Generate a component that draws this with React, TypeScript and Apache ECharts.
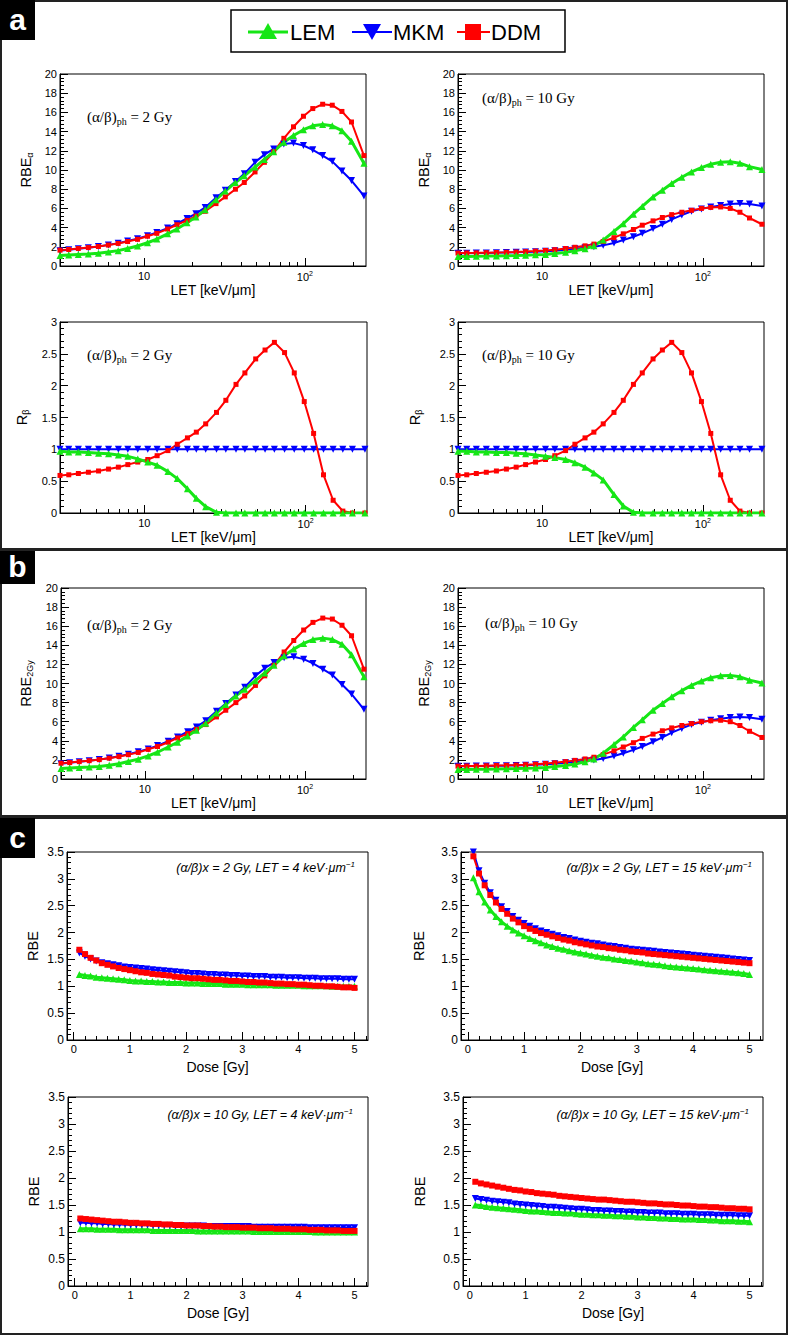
import React, { useEffect, useRef } from 'react';
import * as echarts from 'echarts';

const FONT = '"Liberation Sans", Arial, Helvetica, sans-serif';
const SERIF = '"Liberation Serif", "Times New Roman", serif';
const GREEN = '#16e616';
const BLUE = '#0000ff';
const RED = '#ff0000';

// LET grid (keV/um)
const LET = [3.0, 3.4, 3.9, 4.5, 5.2, 6.0, 6.9, 7.9, 9.1, 10.5, 12, 14, 16, 18.5, 21, 24, 28, 32, 37, 42, 49, 56, 64, 74, 85, 98, 112, 129, 148, 170, 195, 233];
const LET_MAJOR = [10, 100];
const LET_MINOR = [4, 5, 6, 7, 8, 9, 20, 30, 40, 50, 60, 70, 80, 90, 200];

// RBE_alpha, (a/b)ph = 2 Gy
const RBEA2_LEM = [1.1, 1.15, 1.2, 1.25, 1.32, 1.45, 1.6, 1.83, 2.08, 2.42, 2.8, 3.35, 3.85, 4.5, 5.1, 5.85, 6.9, 7.8, 8.7, 9.4, 10.3, 11.1, 11.9, 12.9, 13.6, 14.2, 14.6, 14.75, 14.6, 14.1, 13.0, 10.7];
const RBEA2_MKM = [1.6, 1.7, 1.8, 1.9, 2.03, 2.2, 2.38, 2.6, 2.85, 3.15, 3.5, 3.95, 4.4, 4.95, 5.45, 6.1, 7.1, 7.9, 8.8, 9.6, 10.8, 11.6, 12.2, 12.7, 12.8, 12.55, 12.1, 11.5, 10.9, 9.9, 8.9, 7.3];
const RBEA2_DDM = [1.65, 1.72, 1.82, 1.92, 2.03, 2.18, 2.35, 2.55, 2.78, 3.1, 3.4, 3.85, 4.3, 4.75, 5.2, 5.7, 6.5, 7.2, 8.0, 8.7, 9.8, 10.8, 11.9, 13.3, 14.5, 15.6, 16.4, 16.85, 16.75, 16.1, 15.0, 11.5];
// RBE_alpha, (a/b)ph = 10 Gy
const RBEA10_LEM = [1.0, 1.0, 1.02, 1.03, 1.05, 1.07, 1.09, 1.12, 1.16, 1.21, 1.3, 1.42, 1.58, 1.8, 2.1, 2.7, 3.6, 4.4, 5.4, 6.2, 7.2, 7.9, 8.6, 9.25, 9.8, 10.25, 10.6, 10.8, 10.85, 10.7, 10.35, 10.05];
const RBEA10_MKM = [1.33, 1.34, 1.35, 1.36, 1.38, 1.4, 1.42, 1.45, 1.49, 1.54, 1.6, 1.7, 1.8, 1.9, 2.0, 2.15, 2.4, 2.7, 3.05, 3.4, 3.9, 4.35, 4.85, 5.3, 5.7, 5.95, 6.15, 6.3, 6.45, 6.5, 6.45, 6.25];
const RBEA10_DDM = [1.35, 1.36, 1.37, 1.39, 1.41, 1.43, 1.46, 1.5, 1.55, 1.62, 1.7, 1.82, 1.95, 2.1, 2.28, 2.55, 2.95, 3.35, 3.8, 4.25, 4.7, 5.05, 5.35, 5.6, 5.8, 6.0, 6.1, 6.15, 6.0, 5.6, 5.0, 4.35];
// R_beta
const RB2_LEM = [0.97, 0.96, 0.96, 0.95, 0.94, 0.93, 0.91, 0.89, 0.85, 0.8, 0.75, 0.65, 0.54, 0.38, 0.23, 0.1, 0.01, 0, 0, 0, 0, 0, 0, 0, 0, 0, 0, 0, 0, 0, 0, 0];
const RB10_LEM = [0.97, 0.97, 0.96, 0.96, 0.95, 0.95, 0.94, 0.93, 0.91, 0.89, 0.87, 0.84, 0.79, 0.72, 0.63, 0.52, 0.29, 0.11, 0.01, 0, 0, 0, 0, 0, 0, 0, 0, 0, 0, 0, 0, 0];
const RB_MKM = [1, 1, 1, 1, 1, 1, 1, 1, 1, 1, 1, 1, 1, 1, 1, 1, 1, 1, 1, 1, 1, 1, 1, 1, 1, 1, 1, 1, 1, 1, 1, 1];
const RB_DDM = [0.59, 0.6, 0.62, 0.64, 0.66, 0.69, 0.72, 0.76, 0.8, 0.84, 0.9, 0.98, 1.08, 1.18, 1.27, 1.4, 1.58, 1.77, 2.02, 2.2, 2.42, 2.56, 2.68, 2.52, 2.2, 1.75, 1.25, 0.6, 0.2, 0.03, 0, 0];
// RBE_2Gy (panel b)
const RBE2GY2_LEM = RBEA2_LEM;
const RBE2GY2_MKM = RBEA2_MKM;
const RBE2GY2_DDM = RBEA2_DDM;
const RBE2GY10_LEM = RBEA10_LEM;
const RBE2GY10_MKM = RBEA10_MKM;
const RBE2GY10_DDM = RBEA10_DDM;

// Dose grid (Gy)
const DOSE = [0.1, 0.2, 0.3, 0.4, 0.5, 0.6, 0.7, 0.8, 0.9, 1.0, 1.1, 1.2, 1.3, 1.4, 1.5, 1.6, 1.7, 1.8, 1.9, 2.0, 2.1, 2.2, 2.3, 2.4, 2.5, 2.6, 2.7, 2.8, 2.9, 3.0, 3.1, 3.2, 3.3, 3.4, 3.5, 3.6, 3.7, 3.8, 3.9, 4.0, 4.1, 4.2, 4.3, 4.4, 4.5, 4.6, 4.7, 4.8, 4.9, 5.0];
const DOSE_MAJOR = [0, 1, 2, 3, 4, 5];
const DOSE_MINOR = [0.2, 0.4, 0.6, 0.8, 1.2, 1.4, 1.6, 1.8, 2.2, 2.4, 2.6, 2.8, 3.2, 3.4, 3.6, 3.8, 4.2, 4.4, 4.6, 4.8, 5.2];

const C2_4_LEM = [1.22, 1.2, 1.19, 1.17, 1.16, 1.15, 1.14, 1.13, 1.12, 1.11, 1.1, 1.1, 1.09, 1.09, 1.08, 1.08, 1.07, 1.07, 1.07, 1.06, 1.06, 1.06, 1.05, 1.05, 1.05, 1.05, 1.04, 1.04, 1.04, 1.04, 1.03, 1.03, 1.03, 1.03, 1.03, 1.02, 1.02, 1.02, 1.02, 1.02, 1.01, 1.01, 1.01, 1.01, 1.01, 1.0, 1.0, 1.0, 1.0, 1.0];
const C2_4_MKM = [1.62, 1.56, 1.51, 1.47, 1.44, 1.42, 1.4, 1.38, 1.36, 1.35, 1.34, 1.33, 1.32, 1.31, 1.3, 1.29, 1.28, 1.27, 1.26, 1.25, 1.24, 1.24, 1.23, 1.22, 1.22, 1.21, 1.21, 1.2, 1.2, 1.19, 1.19, 1.18, 1.18, 1.18, 1.17, 1.17, 1.17, 1.16, 1.16, 1.16, 1.15, 1.15, 1.15, 1.14, 1.14, 1.14, 1.14, 1.13, 1.13, 1.13];
const C2_4_DDM = [1.68, 1.6, 1.53, 1.48, 1.43, 1.4, 1.37, 1.34, 1.32, 1.3, 1.28, 1.26, 1.25, 1.23, 1.22, 1.21, 1.2, 1.18, 1.17, 1.16, 1.15, 1.15, 1.14, 1.13, 1.12, 1.12, 1.11, 1.1, 1.1, 1.09, 1.08, 1.08, 1.07, 1.07, 1.06, 1.05, 1.05, 1.04, 1.04, 1.03, 1.03, 1.02, 1.01, 1.01, 1.0, 1.0, 0.99, 0.98, 0.98, 0.97];

const C2_15_LEM = [3.02, 2.76, 2.57, 2.42, 2.3, 2.2, 2.12, 2.05, 1.99, 1.94, 1.89, 1.85, 1.81, 1.77, 1.74, 1.71, 1.69, 1.66, 1.64, 1.62, 1.6, 1.58, 1.56, 1.54, 1.53, 1.51, 1.5, 1.48, 1.47, 1.45, 1.44, 1.42, 1.41, 1.4, 1.38, 1.37, 1.36, 1.35, 1.34, 1.33, 1.32, 1.31, 1.3, 1.29, 1.28, 1.27, 1.26, 1.25, 1.24, 1.22];
const C2_15_MKM = [3.5, 3.15, 2.92, 2.74, 2.6, 2.48, 2.39, 2.3, 2.23, 2.17, 2.12, 2.07, 2.03, 2.0, 1.97, 1.94, 1.91, 1.89, 1.86, 1.84, 1.82, 1.8, 1.79, 1.77, 1.75, 1.74, 1.72, 1.71, 1.69, 1.68, 1.67, 1.66, 1.65, 1.64, 1.63, 1.62, 1.61, 1.6, 1.59, 1.58, 1.57, 1.56, 1.55, 1.54, 1.53, 1.52, 1.51, 1.5, 1.49, 1.48];
const C2_15_DDM = [3.42, 3.1, 2.88, 2.7, 2.56, 2.44, 2.35, 2.26, 2.19, 2.12, 2.07, 2.03, 1.99, 1.96, 1.93, 1.9, 1.87, 1.85, 1.82, 1.8, 1.78, 1.76, 1.74, 1.73, 1.71, 1.7, 1.68, 1.67, 1.65, 1.64, 1.63, 1.61, 1.6, 1.59, 1.58, 1.57, 1.56, 1.55, 1.54, 1.53, 1.52, 1.51, 1.5, 1.49, 1.48, 1.47, 1.46, 1.45, 1.44, 1.43];

const C10_4_LEM = [1.06, 1.06, 1.06, 1.05, 1.05, 1.05, 1.05, 1.04, 1.04, 1.04, 1.04, 1.04, 1.04, 1.03, 1.03, 1.03, 1.03, 1.03, 1.03, 1.03, 1.03, 1.02, 1.02, 1.02, 1.02, 1.02, 1.02, 1.02, 1.02, 1.02, 1.02, 1.01, 1.01, 1.01, 1.01, 1.01, 1.01, 1.01, 1.01, 1.01, 1.01, 1.01, 1.0, 1.0, 1.0, 1.0, 1.0, 1.0, 1.0, 1.0];
const C10_4_MKM = [1.17, 1.17, 1.16, 1.16, 1.15, 1.15, 1.14, 1.14, 1.14, 1.13, 1.13, 1.13, 1.13, 1.12, 1.12, 1.12, 1.12, 1.11, 1.11, 1.11, 1.11, 1.11, 1.11, 1.1, 1.1, 1.1, 1.1, 1.1, 1.1, 1.1, 1.1, 1.09, 1.09, 1.09, 1.09, 1.09, 1.09, 1.09, 1.09, 1.09, 1.09, 1.08, 1.08, 1.08, 1.08, 1.08, 1.08, 1.08, 1.08, 1.08];
const C10_4_DDM = [1.25, 1.24, 1.23, 1.22, 1.21, 1.2, 1.19, 1.19, 1.18, 1.17, 1.17, 1.16, 1.16, 1.15, 1.15, 1.14, 1.14, 1.13, 1.13, 1.12, 1.12, 1.12, 1.11, 1.11, 1.1, 1.1, 1.09, 1.09, 1.09, 1.08, 1.08, 1.08, 1.07, 1.07, 1.07, 1.06, 1.06, 1.06, 1.05, 1.05, 1.05, 1.04, 1.04, 1.04, 1.03, 1.03, 1.03, 1.02, 1.02, 1.02];

const C10_15_LEM = [1.5, 1.49, 1.47, 1.46, 1.45, 1.44, 1.43, 1.42, 1.41, 1.4, 1.39, 1.39, 1.38, 1.37, 1.36, 1.36, 1.35, 1.35, 1.34, 1.33, 1.33, 1.32, 1.32, 1.31, 1.31, 1.3, 1.3, 1.29, 1.29, 1.28, 1.28, 1.27, 1.27, 1.26, 1.26, 1.25, 1.25, 1.24, 1.24, 1.24, 1.23, 1.23, 1.22, 1.22, 1.21, 1.21, 1.21, 1.2, 1.2, 1.19];
const C10_15_MKM = [1.62, 1.6, 1.59, 1.57, 1.56, 1.55, 1.54, 1.52, 1.51, 1.5, 1.49, 1.48, 1.47, 1.46, 1.46, 1.45, 1.44, 1.43, 1.42, 1.42, 1.41, 1.4, 1.4, 1.39, 1.39, 1.38, 1.38, 1.37, 1.37, 1.36, 1.36, 1.35, 1.35, 1.35, 1.34, 1.34, 1.34, 1.33, 1.33, 1.33, 1.32, 1.32, 1.32, 1.31, 1.31, 1.31, 1.31, 1.3, 1.3, 1.3];
const C10_15_DDM = [1.93, 1.9, 1.88, 1.86, 1.84, 1.82, 1.8, 1.78, 1.77, 1.75, 1.74, 1.72, 1.71, 1.7, 1.69, 1.67, 1.66, 1.65, 1.64, 1.63, 1.62, 1.61, 1.6, 1.6, 1.59, 1.58, 1.57, 1.56, 1.56, 1.55, 1.54, 1.53, 1.53, 1.52, 1.51, 1.51, 1.5, 1.49, 1.49, 1.48, 1.47, 1.47, 1.46, 1.46, 1.45, 1.44, 1.44, 1.43, 1.43, 1.42];

type Model = 'LEM' | 'MKM' | 'DDM';
const STYLE: Record<Model, any> = {
  LEM: { color: GREEN, symbol: 'triangle', rotate: 0, size: 7, sizeC: 7, width: 3 },
  MKM: { color: BLUE, symbol: 'triangle', rotate: 180, size: 7, sizeC: 7, width: 2 },
  DDM: { color: RED, symbol: 'rect', rotate: 0, size: 5, sizeC: 6, width: 2 },
};

type Plot = {
  rect: [number, number, number, number];
  kind: 'let' | 'dose';
  ymax: number;
  yint: number;
  yname: string;
  ynameGap: number;
  series: [Model, number[]][];
};

const LET_ORDER = (l: number[], m: number[], d: number[]): [Model, number[]][] => [['MKM', m], ['DDM', d], ['LEM', l]];
const DOSE_ORDER = (l: number[], m: number[], d: number[]): [Model, number[]][] => [['LEM', l], ['MKM', m], ['DDM', d]];

const PLOTS: Plot[] = [
  { rect: [60, 74, 366, 266], kind: 'let', ymax: 20, yint: 2, yname: '{m|RBE}{s|α}', ynameGap: 26, series: LET_ORDER(RBEA2_LEM, RBEA2_MKM, RBEA2_DDM) },
  { rect: [458, 74, 764, 266], kind: 'let', ymax: 20, yint: 2, yname: '{m|RBE}{s|α}', ynameGap: 26, series: LET_ORDER(RBEA10_LEM, RBEA10_MKM, RBEA10_DDM) },
  { rect: [60, 322, 367, 513], kind: 'let', ymax: 3, yint: 0.5, yname: '{m|R}{s|β}', ynameGap: 30, series: LET_ORDER(RB2_LEM, RB_MKM, RB_DDM) },
  { rect: [458, 322, 764, 513], kind: 'let', ymax: 3, yint: 0.5, yname: '{m|R}{s|β}', ynameGap: 35, series: LET_ORDER(RB10_LEM, RB_MKM, RB_DDM) },
  { rect: [61, 588, 366, 779], kind: 'let', ymax: 20, yint: 2, yname: '{m|RBE}{s|2Gy}', ynameGap: 27, series: LET_ORDER(RBE2GY2_LEM, RBE2GY2_MKM, RBE2GY2_DDM) },
  { rect: [458, 588, 764, 779], kind: 'let', ymax: 20, yint: 2, yname: '{m|RBE}{s|2Gy}', ynameGap: 26, series: LET_ORDER(RBE2GY10_LEM, RBE2GY10_MKM, RBE2GY10_DDM) },
  { rect: [67, 852, 368, 1040], kind: 'dose', ymax: 3.5, yint: 0.5, yname: '{m|RBE}', ynameGap: 27, series: DOSE_ORDER(C2_4_LEM, C2_4_MKM, C2_4_DDM) },
  { rect: [461, 852, 763, 1040], kind: 'dose', ymax: 3.5, yint: 0.5, yname: '{m|RBE}', ynameGap: 35, series: DOSE_ORDER(C2_15_LEM, C2_15_MKM, C2_15_DDM) },
  { rect: [68, 1097, 368, 1286], kind: 'dose', ymax: 3.5, yint: 0.5, yname: '{m|RBE}', ynameGap: 27, series: DOSE_ORDER(C10_4_LEM, C10_4_MKM, C10_4_DDM) },
  { rect: [463, 1097, 763, 1286], kind: 'dose', ymax: 3.5, yint: 0.5, yname: '{m|RBE}', ynameGap: 36, series: DOSE_ORDER(C10_15_LEM, C10_15_MKM, C10_15_DDM) },
];

// annotations
const PH_NOTES: [number, number, string][] = [
  [87, 117, '2'], [482, 98, '10'], [87, 355, '2'], [482, 355, '10'], [87, 625, '2'], [485, 623, '10'],
];
const C_NOTES: [number, number, string, string][] = [
  [355, 868, '2', '4'], [752, 868, '2', '15'], [353, 1115, '10', '4'], [749, 1115, '10', '15'],
];

function buildOption() {
  const N = PLOTS.length;
  const grid: any[] = [];
  const xAxis: any[] = [];
  const yAxis: any[] = [];
  const series: any[] = [];
  const black = { color: '#000', width: 1 };

  PLOTS.forEach((p, i) => {
    const [l, t, r, b] = p.rect;
    const isLet = p.kind === 'let';
    const box = { left: l, top: t, width: r - l, height: b - t, outerBoundsMode: 'none' };
    grid[i] = { ...box, show: true, borderColor: '#000', borderWidth: 1, backgroundColor: 'transparent' };
    grid[N + i] = { ...box, show: false };

    const xBase = isLet
      ? { type: 'log', logBase: 10, min: 3, max: 240 }
      : { type: 'value', min: -0.12, max: 5.24 };

    xAxis[i] = {
      ...xBase,
      gridIndex: i,
      axisLine: { show: true, onZero: false, lineStyle: black },
      axisTick: { show: true, inside: true, length: 8, customValues: isLet ? LET_MAJOR : DOSE_MAJOR, lineStyle: black },
      minorTick: { show: false },
      splitLine: { show: false },
      axisLabel: {
        show: true,
        customValues: isLet ? LET_MAJOR : DOSE_MAJOR,
        margin: isLet ? 4 : 3,
        color: '#000',
        fontFamily: FONT,
        fontSize: 11,
        formatter: isLet
          ? (v: number) => (v > 50 ? '{b|10}{sup|2}' : '{b|10}')
          : (v: number) => String(Math.round(v)),
        rich: {
          b: { fontSize: 11, fontFamily: FONT, color: '#000' },
          sup: { fontSize: 7, fontFamily: FONT, color: '#000', padding: [0, 0, 7, 0] },
        },
      },
      name: isLet ? 'LET [keV/μm]' : 'Dose [Gy]',
      nameLocation: 'middle',
      nameGap: isLet ? 15 : 20,
      nameTextStyle: { color: '#000', fontFamily: FONT, fontSize: 14 },
    };
    xAxis[N + i] = {
      ...xBase,
      gridIndex: N + i,
      axisLine: { show: false },
      axisTick: { show: true, inside: true, length: 4, customValues: isLet ? LET_MINOR : DOSE_MINOR, lineStyle: black },
      axisLabel: { show: false },
      splitLine: { show: false },
    };

    yAxis[i] = {
      type: 'value',
      gridIndex: i,
      min: 0,
      max: p.ymax,
      interval: p.yint,
      axisLine: { show: true, onZero: false, lineStyle: black },
      axisTick: { show: true, inside: true, length: 8, lineStyle: black },
      minorTick: { show: true, splitNumber: 5, length: 4, lineStyle: black },
      splitLine: { show: false },
      minorSplitLine: { show: false },
      axisLabel: { margin: 3, color: '#000', fontFamily: FONT, fontSize: isLet ? 11 : 12 },
      name: p.yname,
      nameLocation: 'middle',
      nameRotate: 90,
      nameGap: p.ynameGap,
      nameTextStyle: {
        color: '#000',
        fontFamily: FONT,
        fontSize: 14,
        rich: {
          m: { fontSize: 14.5, fontFamily: FONT, color: '#000' },
          s: { fontSize: 9, fontFamily: FONT, color: '#000', padding: [7, 0, 0, 0] },
        },
      },
    };
    yAxis[N + i] = { type: 'value', gridIndex: N + i, min: 0, max: 1, show: false };

    const xs = isLet ? LET : DOSE;
    p.series.forEach(([model, vals]) => {
      const st = STYLE[model];
      series.push({
        type: 'line',
        name: model,
        xAxisIndex: i,
        yAxisIndex: i,
        data: xs.map((x, k) => [x, vals[k]]),
        symbol: st.symbol,
        symbolRotate: st.rotate,
        symbolSize: isLet ? st.size : st.sizeC,
        showSymbol: true,
        lineStyle: { color: st.color, width: st.width },
        itemStyle: { color: st.color, borderWidth: 0 },
        emphasis: { disabled: true },
        silent: true,
        animation: false,
        clip: true,
      });
    });
  });

  const graphic: any[] = [];
  // panel frames
  const frames: [number, number, number, number][] = [
    [1, 1, 786, 548],
    [1, 550, 786, 266],
    [1, 818, 786, 516],
  ];
  frames.forEach(([x, y, w, h]) => {
    graphic.push({ type: 'rect', shape: { x, y, width: w, height: h }, style: { fill: 'none', stroke: '#222', lineWidth: 2 }, silent: true, z: 10 });
  });
  // panel tags
  const tags: [string, number, number][] = [['a', 0, 40], ['b', 551, 33], ['c', 818, 40]];
  tags.forEach(([s, y, h]) => {
    graphic.push({ type: 'rect', shape: { x: 0, y, width: 35, height: h }, style: { fill: '#000' }, silent: true, z: 20 });
    graphic.push({
      type: 'text', x: 17.5, y: y + h / 2 - 1, silent: true, z: 21,
      style: { text: s, fill: '#fff', font: `bold 30px ${FONT}`, align: 'center', verticalAlign: 'middle' },
    });
  });
  // legend
  graphic.push({ type: 'rect', shape: { x: 231, y: 10, width: 334, height: 42 }, style: { fill: '#fff', stroke: '#000', lineWidth: 1.5 }, silent: true, z: 20 });
  graphic.push({ type: 'line', shape: { x1: 248, y1: 32, x2: 288, y2: 32 }, style: { stroke: GREEN, lineWidth: 3 }, silent: true, z: 21 });
  graphic.push({ type: 'polygon', shape: { points: [[259, 39], [277, 39], [268, 23]] }, style: { fill: GREEN }, silent: true, z: 22 });
  graphic.push({ type: 'text', x: 290, y: 32, silent: true, z: 21, style: { text: 'LEM', fill: '#000', font: `22px ${FONT}`, align: 'left', verticalAlign: 'middle' } });
  graphic.push({ type: 'line', shape: { x1: 352, y1: 32, x2: 392, y2: 32 }, style: { stroke: BLUE, lineWidth: 2 }, silent: true, z: 21 });
  graphic.push({ type: 'polygon', shape: { points: [[363, 24], [381, 24], [372, 40]] }, style: { fill: BLUE }, silent: true, z: 22 });
  graphic.push({ type: 'text', x: 393, y: 32, silent: true, z: 21, style: { text: 'MKM', fill: '#000', font: `22px ${FONT}`, align: 'left', verticalAlign: 'middle' } });
  graphic.push({ type: 'line', shape: { x1: 457, y1: 32, x2: 490, y2: 32 }, style: { stroke: RED, lineWidth: 2 }, silent: true, z: 21 });
  graphic.push({ type: 'rect', shape: { x: 465, y: 24, width: 16, height: 16 }, style: { fill: RED }, silent: true, z: 22 });
  graphic.push({ type: 'text', x: 491, y: 32, silent: true, z: 21, style: { text: 'DDM', fill: '#000', font: `22px ${FONT}`, align: 'left', verticalAlign: 'middle' } });

  // (alpha/beta)ph annotations
  PH_NOTES.forEach(([x, y, v]) => {
    graphic.push({
      type: 'text', x, y, silent: true, z: 30,
      style: {
        text: `{a|(α/β)}{s|ph}{a| = ${v} Gy}`,
        align: 'left',
        verticalAlign: 'middle',
        rich: {
          a: { fontSize: 15, fontFamily: SERIF, fill: '#000', color: '#000' },
          s: { fontSize: 10, fontFamily: SERIF, fill: '#000', color: '#000', padding: [9, 0, 0, 0] },
        },
      },
    });
  });
  C_NOTES.forEach(([x, y, ab, let_]) => {
    graphic.push({
      type: 'text', x, y, silent: true, z: 30,
      style: {
        text: `{i|(α/β)x = ${ab} Gy, LET = ${let_} keV·μm}{p|−1}`,
        align: 'right',
        verticalAlign: 'middle',
        rich: {
          i: { fontSize: 12.5, fontStyle: 'italic', fontFamily: FONT, fill: '#000', color: '#000' },
          p: { fontSize: 8, fontStyle: 'italic', fontFamily: FONT, fill: '#000', color: '#000', padding: [0, 0, 7, 0] },
        },
      },
    });
  });

  return {
    animation: false,
    backgroundColor: '#fff',
    grid,
    xAxis,
    yAxis,
    series,
    graphic: { elements: graphic },
  };
}

export default function App() {
  const ref = useRef<HTMLDivElement>(null);
  useEffect(() => {
    document.body.style.margin = '0';
    const chart = echarts.init(ref.current as HTMLDivElement, null, { renderer: 'svg' });
    chart.setOption(buildOption() as any);
    return () => chart.dispose();
  }, []);
  return <div ref={ref} style={{ width: 788, height: 1336 }} />;
}
